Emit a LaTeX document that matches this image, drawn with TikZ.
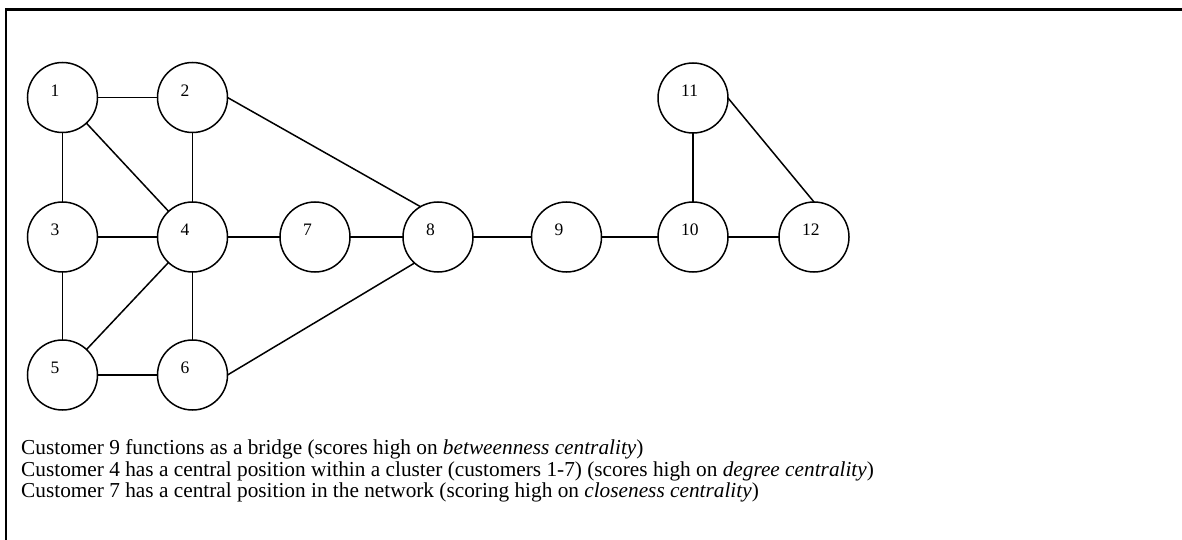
\documentclass[tikz,border=0pt]{standalone}
\usepackage{fontspec}
\setmainfont{Liberation Serif}
\usetikzlibrary{positioning}

\begin{document}
\begin{tikzpicture}
    [
      x=1pt, y=-1pt,
      CIRC/.style={circle, draw=black, line width=1.5pt, minimum size=70pt, inner sep=0pt, outer sep=0pt},
      EDGE/.style={line width=1.5pt, black},
      LBL/.style={anchor=base west, inner sep=0pt, font=\fontsize{17.5}{17.5}\selectfont},
      TXT/.style={anchor=base west, inner sep=0pt, font=\fontsize{21.3}{22}\selectfont},
    ]
    \useasboundingbox (0,0) rectangle (1182,540);

    \node[CIRC] (c1) at (62.5,97.5) {};
    \node[CIRC] (c2) [right = 60pt of c1] {};
    \node[CIRC] (c3) [below = 69.5pt of c1] {};
    \node[CIRC] (c4) [right = 60pt of c3] {};
    \node[CIRC] (c5) [below = 68pt of c3] {};
    \node[CIRC] (c6) [right = 60pt of c5] {};
    \node[CIRC] (c7) [right = 52.5pt of c4] {};
    \node[CIRC] (c8) [right = 53pt of c7] {};
    \node[CIRC] (c9) [right = 58.5pt of c8] {};
    \node[CIRC] (c10) [right = 56.5pt of c9] {};
    \node[CIRC] (c11) [above = 69pt of c10] {};
    \node[CIRC] (c12) [right = 51pt of c10] {};

    \foreach \i in {1,...,12}
      \node[LBL] (lab\i) at ([xshift=-12pt, yshift=1.2pt]c\i.center) {\i};

    \draw[EDGE] (c1) -- (c2);
    \draw[EDGE] (c1) -- (c3);
    \draw[EDGE] (c1) -- (c4);
    \draw[EDGE] (c2) -- (c4);
    \draw[EDGE] (c2.east) -- (c8.120);
    \draw[EDGE] (c3) -- (c4);
    \draw[EDGE] (c3) -- (c5);
    \draw[EDGE] (c4) -- (c5);
    \draw[EDGE] (c4) -- (c6);
    \draw[EDGE] (c4) -- (c7);
    \draw[EDGE] (c5) -- (c6);
    \draw[EDGE] (c6.east) -- (c8.228);
    \draw[EDGE] (c7) -- (c8);
    \draw[EDGE] (c8) -- (c9);
    \draw[EDGE] (c9) -- (c10);
    \draw[EDGE] (c10) -- (c11);
    \draw[EDGE] (c10) -- (c12);
    \draw[EDGE] (c11.east) -- (c12.north);

    % frame, top and left side only
    \draw[line width=2.5pt] (1182,9.3) -- (6,9.3) -- (6,540);

    \node[TXT] (note1) at (21,454) {Customer 9 functions as a bridge (scores high on \textit{betweenness centrality})};
    \node[TXT] (note2) at (21,476) {Customer 4 has a central position within a cluster (customers 1-7) (scores high on \textit{degree centrality})};
    \node[TXT] (note3) at (21,497.5) {Customer 7 has a central position in the network (scoring high on \textit{closeness centrality})};

\end{tikzpicture}
\end{document}
